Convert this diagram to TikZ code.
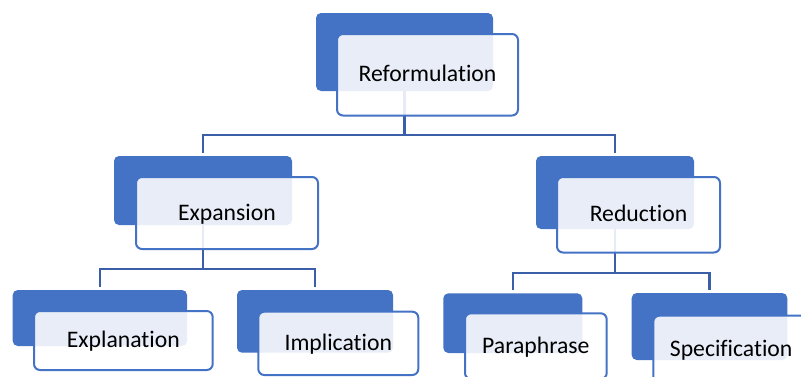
\documentclass[tikz,border=0pt]{standalone}
\usepackage{fontspec}
\setmainfont{Carlito}[Ligatures=NoCommon]
\usetikzlibrary{fit}
\definecolor{acc}{RGB}{68,114,196}
\definecolor{linkc}{RGB}{58,94,168}
\begin{document}
\begin{tikzpicture}[x=1pt,y=-1pt,
  backbox/.style={fill=acc, rounded corners=5pt, inner sep=0pt, outer sep=0pt},
  frontbox/.style={draw=acc, line width=2pt, fill=white, fill opacity=0.88, text opacity=1,
    rounded corners=6pt, inner sep=0pt, outer sep=0pt, anchor=center,
    font=\fontsize{23.7}{28}\selectfont, text height=18pt, text depth=4pt},
  link/.style={draw=linkc, line width=2.3pt, shorten >=3.5pt}]
\useasboundingbox (0,0) rectangle (801,376);
\clip (0,0) rectangle (801,376);
% back boxes
\node[backbox, fit={(316,13) (493,91)}] (rb) {};
\node[backbox, fit={(114,156) (292,225)}] (eb) {};
\node[backbox, fit={(536,156) (694,229)}] (db) {};
\node[backbox, fit={(12.7,290) (187,346)}] (xb) {};
\node[backbox, fit={(237,290) (393,352.7)}] (ib) {};
\node[backbox, fit={(443.3,293.3) (582.3,353)}] (pb) {};
\node[backbox, fit={(631.7,293) (787.3,360)}] (sb) {};
% connectors
\draw[link] (rb.south) -- ++(0,44) coordinate (j1) -| (eb.north);
\draw[link] (j1) -| (db.north);
\draw[link] (eb.south) -- ++(0,44) coordinate (j2) -| (xb.north);
\draw[link] (j2) -| (ib.north);
\draw[link] (db.south) -- ++(0,44.3) coordinate (j3) -| (pb.north);
\draw[link] (j3) -| (sb.north);
% front boxes
\node[frontbox, minimum width=181pt, minimum height=81.5pt] (rf) at (427.5,74.75) {Reformulation};
\node[frontbox, minimum width=182pt, minimum height=72pt] (ef) at (227,213) {Expansion};
\node[frontbox, minimum width=163pt, minimum height=75.5pt] (df) at (638.5,214.75) {Reduction};
\node[frontbox, minimum width=178.7pt, minimum height=59pt] (xf) at (123.35,340.5) {Explanation};
\node[frontbox, minimum width=160pt, minimum height=63.3pt] (if) at (338.3,343.35) {Implication};
\node[frontbox, minimum width=141.7pt, minimum height=65.7pt] (pf) at (535.85,346.15) {Paraphrase};
\node[frontbox, minimum width=155.7pt, minimum height=67.3pt] (sf) at (731.15,349.35) {Specification};
\end{tikzpicture}
\end{document}
